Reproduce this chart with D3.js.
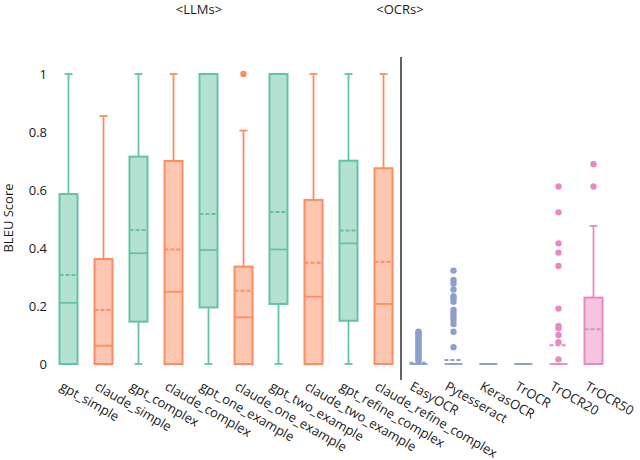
<!DOCTYPE html>
<html>
<head>
<meta charset="utf-8">
<script src="https://cdn.jsdelivr.net/npm/d3@7"></script>
<style>
  body { margin: 0; background: #fff; }
  text { font-family: "Open Sans", "Noto Sans", sans-serif; fill: #1a1a1a; }
</style>
</head>
<body>
<div id="chart"></div>
<script>
var svgWidth = 640;
var svgHeight = 460;

// categories and colour group of each box
var categories = ["gpt_simple", "claude_simple", "gpt_complex", "claude_complex",
  "gpt_one_example", "claude_one_example", "gpt_two_example", "claude_two_example",
  "gpt_refine_complex", "claude_refine_complex",
  "EasyOCR", "Pytesseract", "KerasOCR", "TrOCR", "TrOCR20", "TrOCR50"];
var groups = ["gpt", "claude", "gpt", "claude", "gpt", "claude", "gpt", "claude", "gpt", "claude",
  "ocr", "ocr", "ocr", "ocr", "trocr", "trocr"];

// box statistics
var whiskerLow  = [0, 0, 0, 0, 0, 0, 0, 0, 0, 0, 0, 0, 0, 0, 0, 0];
var q1          = [0, 0, 0.146, 0, 0.195, 0, 0.207, 0, 0.149, 0, 0, 0, 0, 0, 0, 0];
var medians     = [0.211, 0.063, 0.382, 0.249, 0.393, 0.161, 0.395, 0.232, 0.416, 0.207, 0, 0, 0, 0, 0, 0];
var q3          = [0.586, 0.362, 0.715, 0.70, 1, 0.336, 1, 0.566, 0.701, 0.675, 0, 0, 0, 0, 0, 0.229];
var whiskerHigh = [1, 0.855, 1, 1, 1, 0.805, 1, 1, 1, 1, 0, 0, 0, 0, 0, 0.476];
var means       = [0.307, 0.186, 0.462, 0.395, 0.517, 0.253, 0.524, 0.349, 0.46, 0.353, 0.004, 0.014, 0, 0, 0.065, 0.12];
var outliers = [
  [], [], [], [], [], [1.0], [], [], [], [],
  [0.012, 0.018, 0.024, 0.03, 0.036, 0.042, 0.048, 0.054, 0.06, 0.066, 0.072, 0.078, 0.084, 0.09, 0.096, 0.102, 0.108, 0.111],
  [0.322, 0.29, 0.278, 0.257, 0.234, 0.226, 0.215, 0.186, 0.175, 0.163, 0.152, 0.138, 0.111, 0.058],
  [], [],
  [0.612, 0.523, 0.416, 0.384, 0.338, 0.191, 0.131, 0.123, 0.1, 0.075, 0.016],
  [0.689, 0.612]
];

var yTicks = [0, 0.2, 0.4, 0.6, 0.8, 1];

var strokeColor = { gpt: "#66c2a5", claude: "#fc8d62", ocr: "#8da0cb", trocr: "#e78ac3" };
var fillColor = { gpt: "#b3e1d2", claude: "#fdc6b0", ocr: "#c6cfe5", trocr: "#f3c5e1" };

var svg = d3.select("#chart")
  .append("svg")
  .attr("width", svgWidth)
  .attr("height", svgHeight);

var x = d3.scaleBand()
  .domain(categories)
  .range([51, 611]);

var y = d3.scaleLinear()
  .domain([0, 1])
  .range([364, 74]);

var boxW = 18;
var capW = 8;

// y tick labels (no axis line)
svg.append("g").selectAll("text")
  .data(yTicks)
  .enter()
  .append("text")
  .attr("x", 47)
  .attr("y", d => y(d))
  .attr("dy", "0.35em")
  .attr("text-anchor", "end")
  .attr("font-size", "13px")
  .text(d => d3.format("~g")(d));

svg.append("text")
  .attr("transform", "translate(13,218) rotate(-90)")
  .attr("text-anchor", "middle")
  .attr("font-size", "13px")
  .text("BLEU Score");

var boxes = svg.selectAll(".box")
  .data(categories)
  .enter()
  .append("g")
  .attr("class", "box")
  .attr("transform", d => `translate(${x(d) + x.bandwidth() / 2},0)`);

// whiskers
boxes.append("line")
  .attr("y1", (d, i) => y(whiskerHigh[i]))
  .attr("y2", (d, i) => y(q3[i]))
  .attr("stroke", (d, i) => strokeColor[groups[i]])
  .attr("stroke-width", 1.8);
boxes.append("line")
  .attr("y1", (d, i) => y(q1[i]))
  .attr("y2", (d, i) => y(whiskerLow[i]))
  .attr("stroke", (d, i) => strokeColor[groups[i]])
  .attr("stroke-width", 1.8);
boxes.append("line")
  .attr("x1", -capW / 2).attr("x2", capW / 2)
  .attr("y1", (d, i) => y(whiskerHigh[i]))
  .attr("y2", (d, i) => y(whiskerHigh[i]))
  .attr("stroke", (d, i) => strokeColor[groups[i]])
  .attr("stroke-width", 1.8);
boxes.append("line")
  .attr("x1", -capW / 2).attr("x2", capW / 2)
  .attr("y1", (d, i) => y(whiskerLow[i]))
  .attr("y2", (d, i) => y(whiskerLow[i]))
  .attr("stroke", (d, i) => strokeColor[groups[i]])
  .attr("stroke-width", 1.8);

// box
boxes.append("rect")
  .attr("x", -boxW / 2)
  .attr("width", boxW)
  .attr("y", (d, i) => y(q3[i]))
  .attr("height", (d, i) => y(q1[i]) - y(q3[i]))
  .attr("fill", (d, i) => fillColor[groups[i]])
  .attr("stroke", (d, i) => strokeColor[groups[i]])
  .attr("stroke-width", 2);

// median
boxes.append("line")
  .attr("x1", -boxW / 2).attr("x2", boxW / 2)
  .attr("y1", (d, i) => y(medians[i]))
  .attr("y2", (d, i) => y(medians[i]))
  .attr("stroke", (d, i) => strokeColor[groups[i]])
  .attr("stroke-width", 1.8);

// mean (dashed)
boxes.append("line")
  .attr("x1", -boxW / 2).attr("x2", boxW / 2)
  .attr("y1", (d, i) => y(means[i]))
  .attr("y2", (d, i) => y(means[i]))
  .attr("stroke", (d, i) => strokeColor[groups[i]])
  .attr("stroke-width", 2)
  .attr("stroke-dasharray", "4,2");

// outliers
boxes.each(function(d, i) {
  d3.select(this).selectAll("circle")
    .data(outliers[i])
    .enter()
    .append("circle")
    .attr("cx", 0)
    .attr("cy", v => y(v))
    .attr("r", 3.2)
    .attr("fill", strokeColor[groups[i]]);
});

// separator between LLMs and OCRs
var sepX = x("EasyOCR");
svg.append("line")
  .attr("x1", sepX).attr("x2", sepX)
  .attr("y1", 57).attr("y2", 380)
  .attr("stroke", "#111")
  .attr("stroke-width", 1.3);

// group titles
svg.append("text")
  .attr("x", 199).attr("y", 14)
  .attr("text-anchor", "middle")
  .attr("font-size", "13px")
  .text("<LLMs>");
svg.append("text")
  .attr("x", 400).attr("y", 14)
  .attr("text-anchor", "middle")
  .attr("font-size", "13px")
  .text("<OCRs>");

// rotated category labels
svg.append("g").selectAll("text")
  .data(categories)
  .enter()
  .append("text")
  .attr("transform", d => `translate(${x(d) + x.bandwidth() / 2 - 5},381) rotate(30)`)
  .attr("dy", "0.7em")
  .attr("text-anchor", "start")
  .attr("font-size", "13px")
  .text(d => d);
</script>
</body>
</html>
